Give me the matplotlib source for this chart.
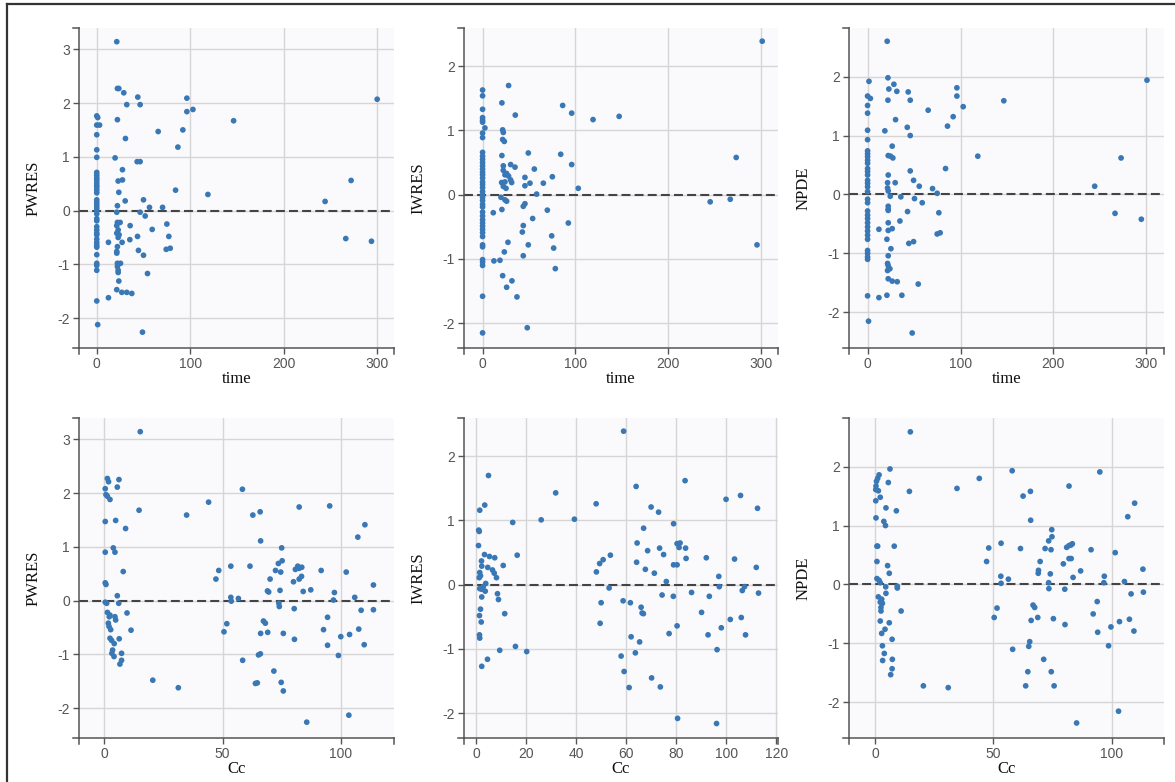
import matplotlib
matplotlib.use('Agg')
import matplotlib.pyplot as plt
from matplotlib.lines import Line2D

# time vs PWRES
time_pw = [0, 1, 0, 3, 0, 0, 0, 0, 0, 0, 0, 0, 0, 0, 0, 0, 0, 0, 0, 0, 0, 0, 0, 0, 0, 0, 0, 0, 0, 0, 0, 0, 0, 0, 0, 0, 0, 1,
           21.4, 22.1, 23.6, 28.9, 43.9, 32.1, 46.4, 96.4, 300, 96.4, 102.9, 146.4, 22.1, 92.1, 65.7, 30.7, 86.8, 19.6,
           43.2, 46.4, 27.5, 22.9, 27.5, 23.6, 84.3, 118.9, 30.4, 50, 22.1, 56.4, 70.4, 244.3, 272.1, 266.4, 293.9,
           21.4, 46.4, 51.8, 59.3, 75, 35.7, 22.1, 25, 21.4, 22.9, 21.4, 23.9, 22.9, 27.1, 35.4, 12.5, 22.1, 21.4,
           43.6, 77.1, 44.6, 50, 74.3, 78.6, 21.4, 22.1, 25.4, 22.1, 22.9, 22.9, 23.6, 54.3, 21.4, 26.8, 32.1, 37.5,
           12.5, 48.9]
pwres_t = [1.76, 1.73, 1.59, 1.59, 1.41, 1.13, 0.99, 0.71, 0.66, 0.61, 0.57, 0.52, 0.47, 0.43, 0.38, 0.33, 0.20, 0.15,
           0.10, 0.05, 0.00, -0.06, -0.15, -0.19, -0.30, -0.36, -0.42, -0.45, -0.53, -0.59, -0.64, -0.68, -0.82, -0.98,
           -1.02, -1.11, -1.68, -2.12,
           3.14, 2.27, 2.27, 2.19, 2.11, 1.97, 1.97, 2.09, 2.07, 1.84, 1.88, 1.67, 1.69, 1.50, 1.47, 1.34, 1.18, 0.98,
           0.91, 0.91, 0.76, 0.55, 0.57, 0.34, 0.38, 0.30, 0.18, 0.20, 0.09, 0.06, 0.06, 0.17, 0.56, -0.52, -0.57,
           -0.03, -0.03, -0.10, -0.35, -0.25, -0.28, -0.22, -0.22, -0.28, -0.36, -0.42, -0.45, -0.50, -0.59, -0.54,
           -0.59, -0.67, -0.76, -0.48, -0.48, -0.74, -0.83, -0.72, -0.70, -0.79, -0.98, -0.98, -1.04, -1.11, -1.15,
           -1.31, -1.17, -1.47, -1.52, -1.52, -1.54, -1.62, -2.26]

# time vs IWRES
time_iw = [0, 0, 0, 0, 0, 0, 2.5, 0, 0, 0, 0, 0, 0, 0, 0, 0, 0, 0, 0, 0, 0, 0, 0, 0, 0, 0, 0, 0, 0, 0, 0, 0, 0, 0, 0, 0,
           0, 0, 0, 0, 0, 0,
           301, 28, 20.8, 35.2, 86.2, 95.9, 118.9, 147, 273, 21.6, 22.3, 21.6, 23.4, 20.8, 49.2, 84.1, 95.9, 30.2,
           34.9, 22.3, 55.7, 45.6, 75.1, 22.3, 25.9, 24.1, 28, 20.5, 24.1, 30.2, 31.3, 51, 65.4, 45.6, 22.3, 25.2,
           103, 58.2, 19.8, 24.1, 25.9, 245, 266.6, 295.4, 45.6, 43.8, 69.7, 20.8, 11.5, 53.9, 92.3, 43.8, 42.8,
           74.4, 27.3, 49.2, 76.5, 23.4, 43.8, 12.2, 18.7, 78.3, 21.6, 31.6, 25.9, 37, 48.1]
iwres_t = [1.63, 1.54, 1.33, 1.20, 1.16, 1.13, 1.04, 0.96, 0.89, 0.66, 0.60, 0.55, 0.50, 0.45, 0.40, 0.35, 0.31, 0.26,
           0.20, 0.16, 0.11, 0.05, 0.00, -0.04, -0.09, -0.15, -0.19, -0.27, -0.33, -0.39, -0.44, -0.49, -0.54, -0.59,
           -0.65, -0.78, -0.81, -1.01, -1.05, -1.10, -1.58, -2.15,
           2.39, 1.70, 1.43, 1.24, 1.39, 1.27, 1.17, 1.22, 0.58, 1.01, 0.97, 0.86, 0.83, 0.61, 0.65, 0.63, 0.47, 0.47,
           0.43, 0.45, 0.40, 0.27, 0.28, 0.38, 0.33, 0.31, 0.29, 0.19, 0.20, 0.23, 0.19, 0.18, 0.18, 0.14, 0.13, 0.10,
           0.10, 0.01, -0.04, -0.08, -0.10, -0.11, -0.07, -0.78, -0.14, -0.18, -0.24, -0.23, -0.28, -0.37, -0.44,
           -0.48, -0.58, -0.64, -0.74, -0.78, -0.83, -0.89, -0.95, -1.03, -1.02, -1.15, -1.26, -1.34, -1.44, -1.59,
           -2.07]

# time vs NPDE
time_np = [1.5, 0, 3, 0, 0, 0, 0, 0, 0, 0, 0, 0, 0, 0, 0, 0, 0, 0, 0, 0, 0, 0, 0, 0, 0, 0, 0, 0, 0, 0, 0, 0, 0, 0, 1,
           21.1, 21.9, 28.3, 22.9, 31.5, 43.7, 21.9, 45.9, 96.1, 96.1, 102.9, 146.6, 300.7, 65.2, 92.1, 30.1, 86,
           42.7, 18.6, 45.9, 26.5, 22.2, 24.7, 27.2, 118.6, 272.8, 83.9, 45.9, 22.2, 29.7, 49.5, 55.6, 69.9, 244.4,
           21.5, 21.5, 22.2, 74.9, 24.4, 35.8, 50.5, 58.8, 22.2, 22.2, 22.2, 76.7, 43, 266.3, 294.6, 34.8, 22.2,
           12.2, 22.2, 26.5, 74.9, 78.1, 20.8, 44.4, 49.5, 25.1, 22.2, 21.5, 22.2, 24, 21.5, 22.2, 26.5, 31.9, 54.5,
           12.2, 20.8, 36.9, 48]
npde_t = [1.92, 1.67, 1.63, 1.51, 1.38, 1.09, 0.93, 0.74, 0.69, 0.64, 0.58, 0.53, 0.44, 0.39, 0.33, 0.24, 0.19, 0.13,
          0.05, -0.08, -0.14, -0.28, -0.35, -0.41, -0.48, -0.55, -0.62, -0.69, -0.76, -0.95, -1.00, -1.06, -1.10,
          -1.72, -2.15,
          2.60, 1.98, 1.87, 1.79, 1.75, 1.74, 1.60, 1.60, 1.81, 1.67, 1.49, 1.59, 1.94, 1.43, 1.32, 1.27, 1.16, 1.14,
          1.08, 1.00, 0.82, 0.66, 0.65, 0.62, 0.65, 0.62, 0.44, 0.40, 0.33, 0.20, 0.24, 0.14, 0.10, 0.14, 0.20, 0.11,
          0.06, 0.02, -0.03, -0.04, -0.07, -0.14, -0.20, -0.25, -0.27, -0.31, -0.29, -0.32, -0.42, -0.45, -0.48,
          -0.59, -0.61, -0.58, -0.67, -0.65, -0.76, -0.83, -0.80, -0.92, -1.04, -1.17, -1.21, -1.26, -1.29, -1.43,
          -1.47, -1.48, -1.52, -1.75, -1.71, -1.71, -2.35]

# Cc vs PWRES
cc_pw = [15.2, 1.3, 1.8, 6.2, 5.5, 0.4, 0.7, 1.3, 2.4, 58.4, 44.1, 14.7, 34.8, 62.8, 65.9, 82.4, 95.3, 0.4, 4.8, 9.0,
         110.2, 107.2, 66.1, 3.8, 75, 0.4, 4.5, 8.0, 48.4, 47.2, 53.5, 61.6, 72.4, 73.6, 75.2, 74.6, 70.1, 91.7,
         102.3, 80.8, 81.8, 82.4, 83.5, 80, 82.4, 83.4, 0.4, 0.7, 113.8, 69, 69.5, 74.3, 84.1, 87.3, 97.3, 96.9,
         105.9, 5.5, 53.5, 53.7, 56.7, 0.4, 1.0, 6.1, 73.8, 74.0, 80.3, 108.6, 113.8, 1.3, 2.4, 2.1, 4.5, 4.8, 9.6,
         94.4, 67.3, 68.1, 51.8, 50.6, 1.7, 2.0, 2.7, 11.3, 92.7, 107.6, 66.1, 69.1, 75.7, 103.7, 100, 6.3, 2.4, 3.1,
         80.4, 4.2, 94.4, 109.9, 3.5, 3.2, 4.1, 7.3, 65.2, 66.0, 99, 7.3, 6.6, 58.5, 71.7, 20.5, 63.9, 64.7, 74.8,
         75.7, 31.3, 85.6, 103.4]
pwres_c = [3.14, 2.27, 2.21, 2.25, 2.11, 2.08, 1.97, 1.94, 1.88, 2.07, 1.83, 1.68, 1.59, 1.59, 1.65, 1.74, 1.76, 1.47,
           1.49, 1.34, 1.41, 1.18, 1.11, 0.98, 0.98, 0.90, 0.90, 0.54, 0.56, 0.40, 0.64, 0.64, 0.56, 0.69, 0.74, 0.53,
           0.40, 0.56, 0.53, 0.58, 0.64, 0.60, 0.62, 0.35, 0.40, 0.45, 0.33, 0.30, 0.29, 0.18, 0.16, 0.19, 0.17, 0.20,
           0.15, 0.01, 0.06, 0.09, 0.06, -0.01, 0.04, -0.03, -0.05, -0.05, -0.05, -0.11, -0.15, -0.18, -0.17, -0.22,
           -0.27, -0.30, -0.30, -0.36, -0.23, -0.31, -0.38, -0.42, -0.43, -0.58, -0.42, -0.48, -0.54, -0.55, -0.54,
           -0.53, -0.61, -0.59, -0.61, -0.63, -0.67, -0.71, -0.70, -0.74, -0.72, -0.80, -0.83, -0.82, -0.92, -0.98,
           -1.04, -0.98, -1.01, -0.99, -1.02, -1.11, -1.18, -1.11, -1.31, -1.48, -1.54, -1.53, -1.52, -1.68, -1.62,
           -2.26, -2.13]

# Cc vs IWRES
cc_iw = [58.9, 4.8, 31.7, 3.3, 1.3, 63.9, 47.9, 69.9, 72.9, 83.5, 99.9, 105.7, 112.5, 14.5, 25.9, 39.2, 78.9, 66.9,
         0.9, 1.1, 0.8, 64.3, 80.3, 81.5, 81.1, 73.3, 83.7, 68.5, 74.9, 53.6, 16.3, 3.2, 5.2, 7.3, 83.9, 92, 103.3,
         50.7, 49.3, 64.1, 78.9, 80.3, 10.7, 112, 2.0, 2.1, 4.5, 67.6, 48, 71.2, 6.4, 7.1, 8.0, 1.3, 1.6, 1.1, 97,
         76, 3.7, 2.7, 1.3, 2.1, 3.5, 53.1, 97.2, 107.3, 106.4, 86.1, 112.9, 8.4, 2.1, 74.3, 78.8, 93.2, 8.8, 58.7,
         61.6, 49.9, 1.6, 65.9, 66.3, 66.8, 90.1, 11.3, 1.2, 106, 101.6, 1.9, 49.5, 80.3, 98, 77.1, 92.7, 107.7,
         61.9, 1.2, 1.3, 65.3, 15.6, 96.3, 9.3, 20.1, 63.6, 57.9, 4.4, 2.1, 59.1, 70.1, 73.6, 61.1, 80.5, 96.1]
iwres_c = [2.39, 1.70, 1.43, 1.24, 1.16, 1.53, 1.26, 1.21, 1.13, 1.62, 1.33, 1.39, 1.19, 0.97, 1.01, 1.02, 0.95, 0.88,
           0.85, 0.83, 0.61, 0.65, 0.64, 0.65, 0.58, 0.57, 0.57, 0.53, 0.47, 0.46, 0.46, 0.47, 0.44, 0.42, 0.41, 0.42,
           0.40, 0.39, 0.33, 0.35, 0.31, 0.31, 0.30, 0.27, 0.37, 0.29, 0.27, 0.24, 0.20, 0.18, 0.23, 0.18, 0.11, 0.19,
           0.14, 0.11, 0.13, 0.05, 0.02, -0.03, -0.06, -0.07, -0.10, -0.05, -0.03, -0.03, -0.09, -0.12, -0.13, -0.14,
           -0.19, -0.16, -0.18, -0.18, -0.23, -0.25, -0.28, -0.28, -0.38, -0.35, -0.44, -0.45, -0.43, -0.45, -0.48,
           -0.51, -0.54, -0.58, -0.60, -0.64, -0.67, -0.76, -0.78, -0.78, -0.81, -0.78, -0.83, -0.89, -0.96, -1.01,
           -1.02, -1.04, -1.06, -1.11, -1.16, -1.27, -1.35, -1.45, -1.59, -1.60, -2.08, -2.16]

# Cc vs NPDE
cc_np = [14.9, 6.3, 1.7, 1.1, 0.6, 0.4, 0.3, 1.4, 5.6, 14.5, 2.2, 0.3, 4.6, 9.0, 0.4, 3.7, 4.4, 34.6, 44, 57.9, 62.5,
         65.6, 81.9, 94.9, 65.7, 109.6, 106.7, 74.6, 74.7, 73.3, 0.8, 1.1, 8.1, 48, 53.2, 61.4, 71.8, 74.3, 80.9,
         81.9, 82.7, 83.3, 91.2, 101.4, 0.8, 47.1, 69.7, 79.5, 81.9, 82.8, 5.3, 6.0, 69.0, 68.9, 86.8, 74, 113.1,
         53.1, 56.3, 83.6, 96.8, 0.8, 1.7, 2.2, 53.2, 73.3, 96.6, 105.3, 4.5, 9.4, 9.4, 73.4, 80.1, 4.6, 113.3,
         108.1, 1.4, 2.8, 2.2, 3.1, 2.5, 93.8, 66.7, 67.4, 51.5, 2.5, 2.2, 11, 92.1, 50.3, 6.0, 65.9, 68.7, 75.3,
         107.4, 103.2, 80.2, 99.6, 4.2, 2.8, 94, 109.3, 7.2, 65.3, 64.9, 3.1, 98.6, 58.1, 3.9, 7.3, 3.2, 71.2, 7.2,
         6.6, 64.5, 74.4, 20.4, 30.9, 63.6, 75.6, 85.1, 102.8]
npde_c = [2.59, 1.96, 1.86, 1.80, 1.75, 1.67, 1.61, 1.59, 1.73, 1.58, 1.48, 1.42, 1.30, 1.25, 1.13, 1.07, 1.00, 1.63,
          1.80, 1.93, 1.50, 1.58, 1.67, 1.91, 1.09, 1.38, 1.15, 0.93, 0.81, 0.74, 0.65, 0.65, 0.65, 0.62, 0.70, 0.61,
          0.61, 0.59, 0.63, 0.66, 0.67, 0.69, 0.59, 0.54, 0.39, 0.39, 0.39, 0.35, 0.44, 0.44, 0.32, 0.19, 0.24, 0.19,
          0.23, 0.18, 0.26, 0.14, 0.09, 0.12, 0.14, 0.10, 0.07, 0.03, 0.02, 0.03, 0.03, 0.05, -0.04, -0.03, -0.06,
          -0.07, -0.08, -0.15, -0.13, -0.16, -0.21, -0.25, -0.30, -0.32, -0.39, -0.29, -0.35, -0.39, -0.40, -0.45,
          -0.62, -0.45, -0.50, -0.56, -0.65, -0.61, -0.56, -0.58, -0.59, -0.63, -0.68, -0.72, -0.76, -0.83, -0.81,
          -0.79, -0.93, -0.97, -1.05, -1.04, -1.04, -1.10, -1.17, -1.27, -1.29, -1.27, -1.43, -1.53, -1.48, -1.48,
          -1.72, -1.75, -1.72, -1.72, -2.35, -2.15]

time_ticks = [0, 100, 200, 300]
cc_ticks = [0, 50, 100]
cc_ticks_iw = [0, 20, 40, 60, 80, 100, 120]

plt.rcParams['font.family'] = ['Liberation Sans', 'DejaVu Sans']
plt.rcParams['axes.unicode_minus'] = False

fig = plt.figure(figsize=(11.75, 7.82), dpi=100)

W, H = 1175, 782
# (x, y, xlabel, ylabel, left_px, top_px, width_px, xlim, ylim, xticks)
panels = [
    (time_pw, pwres_t, 'time', 'PWRES', 79, 27.7, 315, (-19, 318), (-2.56, 3.40), time_ticks),
    (time_iw, iwres_t, 'time', 'IWRES', 464, 27.7, 314, (-20, 318), (-2.39, 2.60), time_ticks),
    (time_np, npde_t, 'time', 'NPDE', 849, 27.7, 315, (-20, 319), (-2.61, 2.83), time_ticks),
    (cc_pw, pwres_c, 'Cc', 'PWRES', 79, 417.7, 315, (-10.7, 122.5), (-2.56, 3.40), cc_ticks),
    (cc_iw, iwres_c, 'Cc', 'IWRES', 464, 417.7, 314, (-5, 120.7), (-2.39, 2.60), cc_ticks_iw),
    (cc_np, npde_c, 'Cc', 'NPDE', 849, 417.7, 315, (-11, 122), (-2.61, 2.83), cc_ticks),
]
ph = 320.6

for x, y, xl, yl, left, top, pw, xlim, ylim, xt in panels:
    ax = fig.add_axes([left / W, 1 - (top + ph) / H, pw / W, ph / H])
    ax.set_facecolor('#fafafd')
    ax.set_xlim(*xlim)
    ax.set_ylim(*ylim)
    ax.set_xticks(xt)
    yt = [v for v in range(-3, 4) if ylim[0] < v < ylim[1]]
    ax.set_yticks(yt)
    ax.grid(True, color='#d6d6d6', lw=1)
    ax.set_axisbelow(True)
    for s in ['top', 'right']:
        ax.spines[s].set_visible(False)
    for s in ['left', 'bottom']:
        ax.spines[s].set_color('#555555')
        ax.spines[s].set_linewidth(1.1)
    ax.tick_params(direction='out', length=4, width=1, color='#555555', labelcolor='#555555', labelsize=10, pad=2.5)
    ax.axhline(0, color='#444444', lw=1.5, ls=(0, (4.3, 2)), zorder=2)
    ax.scatter(x, y, s=17, color='#3a78b5', edgecolors='none', zorder=3)
    # d3-style outer ticks at the ends of each axis
    ax.plot([0, -6 / pw], [1, 1], transform=ax.transAxes, color='#555555', lw=1.1, clip_on=False)
    ax.plot([0, -6 / pw], [0, 0], transform=ax.transAxes, color='#555555', lw=1.1, clip_on=False)
    ax.plot([0, 0], [0, -6 / ph], transform=ax.transAxes, color='#555555', lw=1.1, clip_on=False)
    ax.plot([1, 1], [0, -6 / ph], transform=ax.transAxes, color='#555555', lw=1.1, clip_on=False)
    ax.set_xlabel(xl, family=['Liberation Serif', 'DejaVu Serif'], fontsize=12, color='#111111')
    ax.set_ylabel(yl, family=['Liberation Serif', 'DejaVu Serif'], fontsize=12, color='#111111')
    ax.xaxis.set_label_coords(0.5, -0.071)
    ax.yaxis.set_label_coords(-0.12, 0.5)

# frame around the figure (top and left edges)
fig.add_artist(Line2D([7 / W, 1], [1 - 3.5 / H, 1 - 3.5 / H], transform=fig.transFigure, color='#333333', lw=1.6))
fig.add_artist(Line2D([7 / W, 7 / W], [0, 1 - 3.5 / H], transform=fig.transFigure, color='#333333', lw=1.6))

fig.savefig('out.png', dpi=100, facecolor='white')
